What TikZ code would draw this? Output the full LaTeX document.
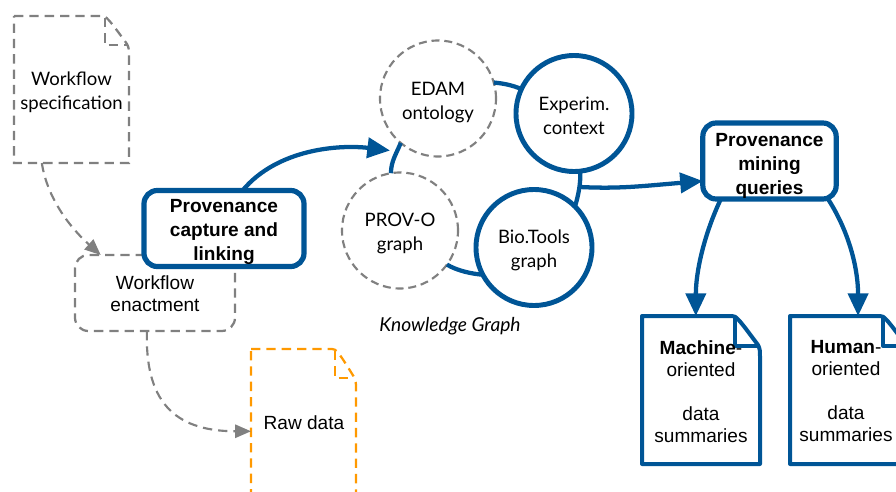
\documentclass[tikz,border=0pt]{standalone}
\usepackage{fontspec}
\setmainfont{Liberation Sans}
\newfontfamily\kgfont{Lato}
\usetikzlibrary{arrows.meta}
\definecolor{provblue}{HTML}{005596}
\definecolor{softgrey}{HTML}{808080}
\definecolor{rawcolor}{HTML}{FF9900}
\tikzset{
  x=0.75pt,y=-0.75pt,
  bluebox/.style={draw=provblue,line width=3.9pt,fill=white,rounded corners=10pt,inner sep=0pt,outer sep=0pt},
  greybox/.style={draw=softgrey,line width=1.7pt,dash pattern=on 7pt off 4.5pt,rounded corners=10pt,inner sep=0pt,outer sep=0pt},
  solidcircle/.style={circle,draw=provblue,line width=3.7pt,fill=white,inner sep=0pt,outer sep=0pt,minimum size=87pt},
  dashcircle/.style={circle,draw=softgrey,line width=1.6pt,dash pattern=on 6pt off 3.6pt,fill=white,inner sep=0pt,outer sep=0pt,minimum size=87pt},
  blueline/.style={draw=provblue,line width=3.2pt},
  bluearrow/.style={blueline,-{Triangle[length=17pt,width=15pt]}},
  greyarrow/.style={draw=softgrey,line width=1.6pt,dash pattern=on 7pt off 4.5pt,-{Triangle[length=12pt,width=10pt,fill=softgrey]}},
  docblue/.style={draw=provblue,line width=3pt,line join=round},
  docgrey/.style={draw=softgrey,line width=1.7pt,dash pattern=on 7pt off 4.5pt},
  docorange/.style={draw=rawcolor,line width=1.7pt,dash pattern=on 7pt off 4.5pt},
  doclabel/.style={align=center,inner sep=0pt,font=\fontsize{14.3}{16.5}\selectfont},
  boldlabel/.style={align=center,inner sep=0pt,font=\fontsize{14.3}{18}\selectfont\bfseries},
  speclabel/.style={align=center,inner sep=0pt,font=\kgfont\fontsize{13.9}{18}\selectfont},
}
% style, name, x1, y1, x2, y2, fold width, fold height
\newcommand{\docfile}[8]{%
  \node[inner sep=0pt,outer sep=0pt,minimum width={(#5-#3)*0.75pt},minimum height={(#6-#4)*0.75pt}] (#2) at ({(#3+#5)/2},{(#4+#6)/2}) {};
  \draw[#1] (#3,#4) -- ({#5-#7-3},#4) .. controls ({#5-#7+1},#4) and ({#5-#7+3},{#4+2}) .. ({#5-2},{#4+#8-1}) .. controls ({#5},{#4+#8+3}) and (#5,{#4+#8+5}) .. (#5,{#4+#8+11}) -- (#5,#6) -- (#3,#6) -- cycle;
  \draw[#1] ({#5-#7},{#4+2}) -- ({#5-#7},{#4+#8}) -- ({#5-2},{#4+#8});
}
\begin{document}
\begin{tikzpicture}
\useasboundingbox (0,0) rectangle (896,492);
\clip (0,0) rectangle (896,492);
% documents
\docfile{docgrey}{spec}{14}{16}{129}{163}{24}{29}
\node[speclabel] (speclabel) at (71.5,92) {Workflow\\specification};
\docfile{docorange}{raw}{251}{349}{356}{495}{21}{29}
\node[doclabel] (rawlabel) at (304,423) {Raw data};
\docfile{docblue}{machine}{642}{316}{760}{464}{25}{30}
\node[doclabel] (machinelabel) at (701,391.5) {\textbf{Machine}-\\oriented\\[16.5pt]data\\summaries};
\docfile{docblue}{human}{790}{316}{908}{464}{25}{30}
\node[doclabel] (humanlabel) at (846,391.5) {\textbf{Human}-\\oriented\\[16.5pt]data\\summaries};
% boxes
\node[greybox,minimum width=120pt,minimum height=57pt] (enact) at (155,293) {};
\node[doclabel] (enactlabel) at (155,294) {Workflow\\enactment};
\node[bluebox,minimum width=120pt,minimum height=57pt] (capture) at (224,228.5) {};
\node[boldlabel] (capturelabel) at (224,231.5) {Provenance\\capture and\\linking};
\node[bluebox,minimum width=100pt,minimum height=57pt] (queries) at (769.5,161) {};
\node[boldlabel] (querieslabel) at (769.5,165.5) {Provenance\\mining\\queries};
% knowledge graph
\node[dashcircle] (edam) at (438,98.5) {};
\node[speclabel] (edamlabel) at (438,102.5) {EDAM\\ontology};
\node[dashcircle] (prov) at (400,230.5) {};
\node[speclabel] (provlabel) at (400,233) {PROV-O\\graph};
\node[solidcircle] (exper) at (574,113.5) {};
\node[speclabel] (experlabel) at (574,116) {Experim.\\context};
\node[solidcircle] (bio) at (534,247.5) {};
\node[speclabel] (biolabel) at (534,250) {Bio.Tools\\graph};
\node[inner sep=0pt,font=\kgfont\itshape\fontsize{14.4}{16}\selectfont] (kg) at (450,326) {Knowledge Graph};
% links among graphs
\draw[blueline] (edam.16) .. controls +(10,1) and +(-10,-4) .. (exper.155);
\draw[blueline] (edam.230) .. controls +(-4,10) and +(0,-12) .. (prov.99);
\draw[blueline] (prov.-36) .. controls +(10,6) and +(-12,-1) .. (bio.208);
\draw[blueline] (exper.-84) .. controls +(1,12) and +(3,-10) .. (bio.45);
\coordinate (kgin) at (390,150.5);
\coordinate (kgout) at (580,187);
% flows
\draw[bluearrow] (capture.64) .. controls +(35,-42) and +(-50,-6) .. (kgin);
\draw[bluearrow] (kgout) .. controls +(40,2) and +(-60,5) .. (queries.west |- 0,181);
\draw[bluearrow] (queries.218) .. controls +(-17,36) and +(0,-44) .. (machine.94);
\draw[bluearrow] (queries.327) .. controls +(23,36) and +(0,-44) .. (human.83);
\draw[greyarrow] (spec.248) .. controls +(6,38) and +(-28,-25) .. (enact.145);
\draw[greyarrow] (enact.258) .. controls +(-2,68) and +(-79,0) .. (raw.190);
\end{tikzpicture}
\end{document}
